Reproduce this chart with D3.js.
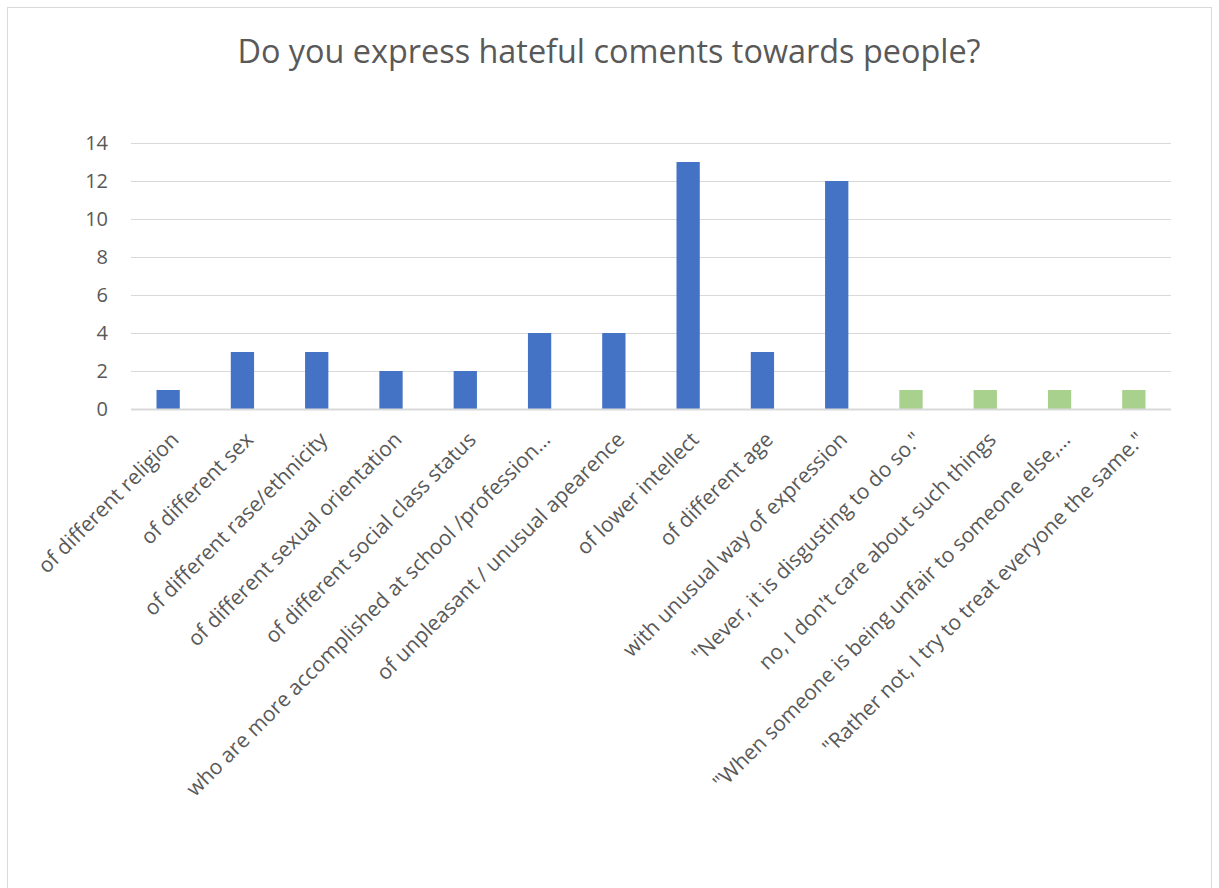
<!DOCTYPE html>
<html>
<head>
<meta charset="utf-8">
<script src="https://cdn.jsdelivr.net/npm/d3@7"></script>
<style>
  html, body { margin: 0; padding: 0; background: #fff; }
  svg { display: block; }
</style>
</head>
<body>
<svg id="chart" width="1219" height="888"></svg>
<script>
// Survey answers: how often respondents express hateful comments, by target group
const categories = [
  "of different religion",
  "of different sex",
  "of different rase/ethnicity",
  "of different sexual orientation",
  "of different social class status",
  "who are more accomplished at school /profession…",
  "of unpleasant / unusual apearence",
  "of lower intellect",
  "of different age",
  "with unusual way of expression",
  "\"Never, it is disgusting to do so.\"",
  "no, I don't care about such things",
  "\"When someone is being unfair to someone else,…",
  "\"Rather not, I try to treat everyone the same.\""
];
const values = [1, 3, 3, 2, 2, 4, 4, 13, 3, 12, 1, 1, 1, 1];
// answer kind: "target" = names a group, "refusal" = free-text denial
const kinds = ["target", "target", "target", "target", "target", "target", "target",
               "target", "target", "target", "refusal", "refusal", "refusal", "refusal"];
const yTicks = [0, 2, 4, 6, 8, 10, 12, 14];
const title = "Do you express hateful coments towards people?";

const kindColor = { target: "#4472C4", refusal: "#A9D18E" };
const textColor = "#595959";
const gridColor = "#D9D9D9";
const font = "'Open Sans', sans-serif";

const svg = d3.select("#chart");
const W = 1219, H = 888;
const margin = { left: 131, right: 48, top: 143, bottom: 479 };

// chart frame
svg.append("rect")
  .attr("x", 7.5).attr("y", 7.5)
  .attr("width", W - 15).attr("height", H)
  .attr("fill", "#fff").attr("stroke", "#D9D9D9").attr("stroke-width", 1);

svg.append("text")
  .attr("x", 609).attr("y", 63)
  .attr("text-anchor", "middle")
  .attr("font-family", font)
  .attr("font-size", 32.4)
  .attr("fill", textColor)
  .text(title);

const x = d3.scaleBand()
  .domain(categories)
  .range([margin.left, W - margin.right])
  .paddingInner(0)
  .paddingOuter(0);

const y = d3.scaleLinear()
  .domain([0, 14])
  .range([H - margin.bottom, margin.top]);

// gridlines
svg.append("g")
  .selectAll("line")
  .data(yTicks.filter(d => d > 0))
  .join("line")
  .attr("x1", margin.left).attr("x2", W - margin.right)
  .attr("y1", d => Math.round(y(d)) + 0.5).attr("y2", d => Math.round(y(d)) + 0.5)
  .attr("stroke", gridColor).attr("stroke-width", 1);

// y axis labels
const yAxis = d3.axisLeft(y).tickValues(yTicks).tickSize(0).tickPadding(0);
const gy = svg.append("g")
  .attr("transform", `translate(${margin.left - 23},0)`)
  .call(yAxis);
gy.select(".domain").remove();
gy.selectAll("text")
  .attr("font-family", font)
  .attr("font-size", 20)
  .attr("fill", textColor);

// bars: Excel-style gap width of ~219%
const barW = x.bandwidth() / 3.19;
svg.append("g")
  .selectAll("rect")
  .data(categories)
  .join("rect")
  .attr("x", (d) => x(d) + (x.bandwidth() - barW) / 2)
  .attr("width", barW)
  .attr("y", (d, i) => y(values[i]))
  .attr("height", (d, i) => y(0) - y(values[i]))
  .attr("fill", (d, i) => kindColor[kinds[i]]);

// baseline
svg.append("line")
  .attr("x1", margin.left).attr("x2", W - margin.right)
  .attr("y1", y(0) + 0.5).attr("y2", y(0) + 0.5)
  .attr("stroke", gridColor).attr("stroke-width", 2);

// x axis category labels, rotated 45°
const xAxis = d3.axisBottom(x).tickSize(0).tickPadding(0);
const gx = svg.append("g")
  .attr("transform", `translate(0,${y(0)})`)
  .call(xAxis);
gx.select(".domain").remove();
gx.selectAll("text")
  .attr("font-family", font)
  .attr("font-size", 21)
  .attr("fill", textColor)
  .attr("text-anchor", "end")
  .attr("dy", "0")
  .attr("transform", "translate(12,32) rotate(-45)");
</script>
</body>
</html>
